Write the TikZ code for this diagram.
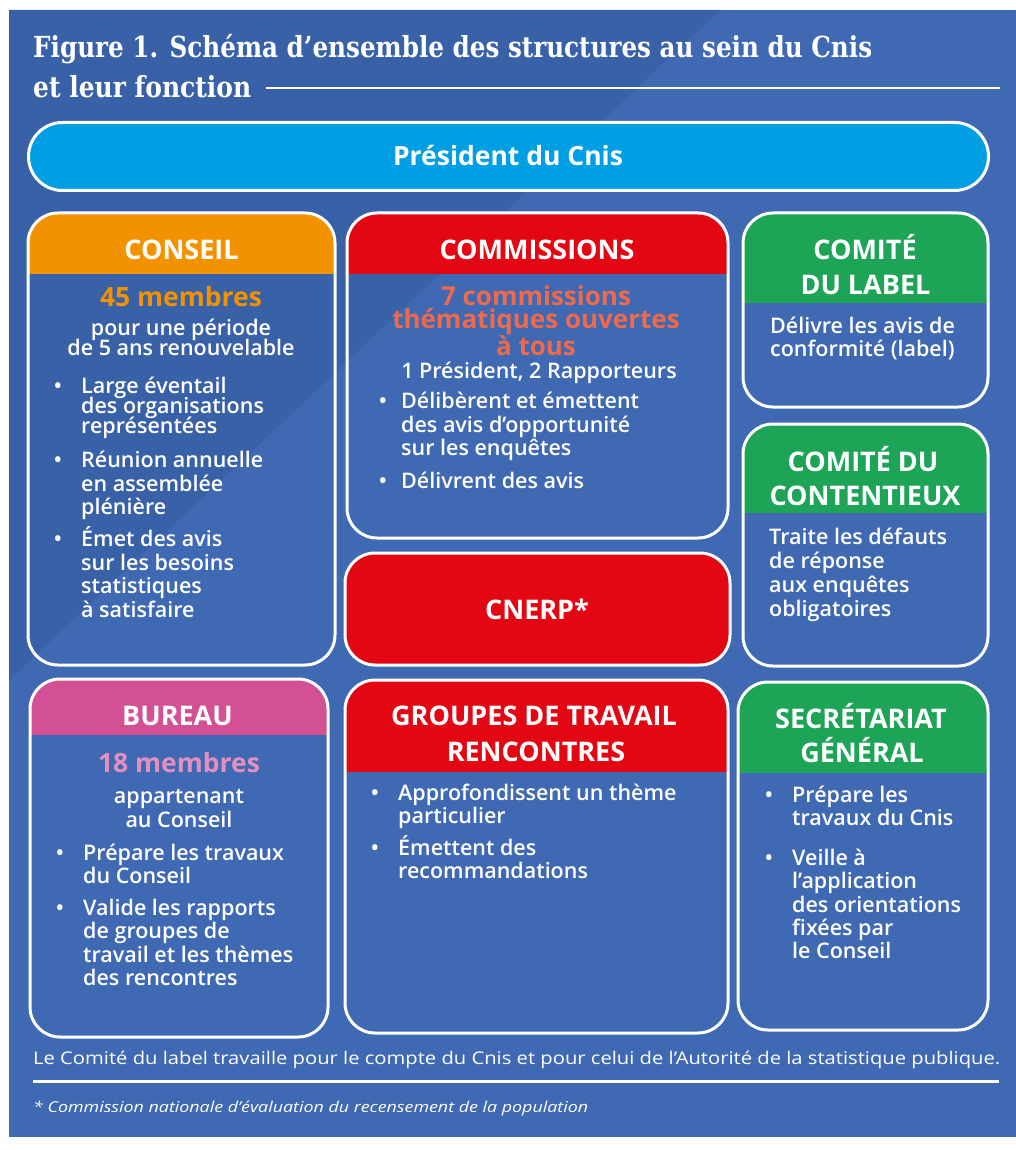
\documentclass[tikz,border=0pt]{standalone}
\usepackage{fontspec}
\usepackage{graphicx}
\setmainfont{Open Sans}
\newfontfamily\bodyf{Open Sans Semibold}
\newfontfamily\titlef{DejaVu Serif}
\definecolor{bgdark}{HTML}{3861A7}
\definecolor{bglight}{HTML}{3F69B2}
\definecolor{prescyan}{HTML}{009FE3}
\definecolor{hdorange}{HTML}{F39200}
\definecolor{hdred}{HTML}{E30613}
\definecolor{hdgreen}{HTML}{1DA457}
\definecolor{hdpink}{HTML}{D35095}
\definecolor{txpink}{HTML}{E58FC1}
\definecolor{txsalmon}{HTML}{EF6A4C}
\tikzset{
  box/.style={draw=white, line width=3pt, rounded corners=30pt, inner sep=0pt, outer sep=0pt},
  hdr/.style 2 args={path picture={\fill[#1, sharp corners] ([yshift=2pt]path picture bounding box.north west) rectangle ([yshift=-#2]path picture bounding box.north east);}},
  hd/.style={text=white, font=\bfseries\fontsize{27}{27}\selectfont, inner sep=0pt, anchor=base},
  big/.style={font=\bfseries\fontsize{26.5}{26.5}\selectfont, inner sep=0pt, anchor=base},
  bt/.style={text=white, font=\bodyf\fontsize{21.5}{21.5}\selectfont, inner sep=0pt, anchor=base west},
  bc/.style={bt, anchor=base},
  bul/.style={bt, anchor=base},
  ttl/.style={text=white, font=\titlef\bfseries\fontsize{29}{29}\selectfont, inner sep=0pt, anchor=base west},
  foot/.style={text=white, font=\fontsize{17.5}{17.5}\selectfont, inner sep=0pt, anchor=base west},
  rule/.style={draw=white, line width=2.5pt}
}
\begin{document}
\begin{tikzpicture}[x=1pt,y=-1pt]
\useasboundingbox (0,0) rectangle (1016,1150);
\fill[white] (0,0) rectangle (1016,1150);
\fill[bglight] (9,10) rectangle (1016,1137);
\fill[bgdark] (9,10) -- (720,10) -- (9,680) -- cycle;

% title
\node[ttl] (t1) at (33,58) {\resizebox{839pt}{\height}{Figure 1. Schéma d’ensemble des structures au sein du Cnis}};
\node[ttl] (t2) at (33,98) {\resizebox{218pt}{\height}{et leur fonction}};
\coordinate (rl) at (1000,88);
\draw[draw=white, line width=2pt] (t2.east |- rl) ++(15,0) -- (rl);

% president
\node[box, fill=prescyan, minimum width=960pt, minimum height=68pt, rounded corners=34pt] (pres) at (508.5,156.5) {};
\node[hd, font=\bfseries\fontsize{26.5}{26.5}\selectfont] (prest) at (508,166) {Président du Cnis};

% boxes
\node[box, hdr={hdorange}{61pt}, minimum width=307pt, minimum height=452pt] (conseil) at (181.5,439) {};
\node[box, hdr={hdred}{61pt}, minimum width=381pt, minimum height=325pt] (comm) at (537.5,375.5) {};
\node[box, fill=hdred, minimum width=385pt, minimum height=112pt] (cnerp) at (537.5,609) {};
\node[box, hdr={hdgreen}{90pt}, minimum width=245pt, minimum height=194pt] (label) at (865.5,310) {};
\node[box, hdr={hdgreen}{89pt}, minimum width=245pt, minimum height=242pt] (cont) at (865.5,545) {};
\node[box, hdr={hdpink}{56pt}, minimum width=298pt, minimum height=358pt] (bureau) at (179,858) {};
\node[box, hdr={hdred}{92pt}, minimum width=383pt, minimum height=353pt] (groupes) at (536.5,856.5) {};
\node[box, hdr={hdgreen}{91pt}, minimum width=250pt, minimum height=348pt] (secr) at (863,856) {};

% CONSEIL
\node[hd] (conseilh) at (181.5,259) {CONSEIL};
\node[big, text=hdorange] (c45) at (181,306) {45 membres};
\node[bc] (c1) at (181,335) {pour une période};
\node[bc] (c2) at (181,355) {de 5 ans renouvelable};
\node[bul] (cb1) at (58,393) {•};
\node[bt] (c3) at (81,393) {Large éventail};
\node[bt] (c4) at (81,413) {des organisations};
\node[bt] (c5) at (81,433) {représentées};
\node[bul] (cb2) at (58,467) {•};
\node[bt] (c6) at (81,467) {Réunion annuelle};
\node[bt] (c7) at (81,491) {en assemblée};
\node[bt] (c8) at (81,514) {plénière};
\node[bul] (cb3) at (58,546) {•};
\node[bt] (c9) at (81,546) {Émet des avis};
\node[bt] (c10) at (81,570) {sur les besoins};
\node[bt] (c11) at (81,593) {statistiques};
\node[bt] (c12) at (81,617) {à satisfaire};

% COMMISSIONS
\node[hd] (commh) at (537,259) {COMMISSIONS};
\node[big, text=txsalmon, font=\bfseries\fontsize{26}{26}\selectfont] (m1) at (536,305) {7 commissions};
\node[big, text=txsalmon, font=\bfseries\fontsize{26}{26}\selectfont] (m2) at (536,328.5) {thématiques ouvertes};
\node[big, text=txsalmon, font=\bfseries\fontsize{26}{26}\selectfont] (m3) at (536,355) {à tous};
\node[bc] (m4) at (539,378) {1 Président, 2 Rapporteurs};
\node[bul] (mb1) at (383,408) {•};
\node[bt] (m5) at (401,408) {Délibèrent et émettent};
\node[bt] (m6) at (401,432) {des avis d’opportunité};
\node[bt] (m7) at (401,455) {sur les enquêtes};
\node[bul] (mb2) at (383,488) {•};
\node[bt] (m8) at (401,488) {Délivrent des avis};

% CNERP
\node[hd] (cnerpt) at (537,619) {CNERP*};

% COMITE DU LABEL
\node[hd] (lh1) at (865,259) {COMITÉ};
\node[hd] (lh2) at (865.5,294) {DU LABEL};
\node[bt] (l1) at (770,333) {Délivre les avis de};
\node[bt] (l2) at (770,356) {conformité (label)};

% COMITE DU CONTENTIEUX
\node[hd] (kh1) at (863,471) {COMITÉ DU};
\node[hd] (kh2) at (865,505) {CONTENTIEUX};
\node[bt] (k1) at (769,544) {Traite les défauts};
\node[bt] (k2) at (769,568) {de réponse};
\node[bt] (k3) at (769,592) {aux enquêtes};
\node[bt] (k4) at (769,616) {obligatoires};

% BUREAU
\node[hd] (bh) at (177.5,725) {BUREAU};
\node[big, text=txpink] (b18) at (179,772) {18 membres};
\node[bc] (b1) at (179,803) {appartenant};
\node[bc] (b2) at (179,827) {au Conseil};
\node[bul] (bb1) at (60,860) {•};
\node[bt] (b3) at (83,860) {Prépare les travaux};
\node[bt] (b4) at (83,883) {du Conseil};
\node[bul] (bb2) at (60,915) {•};
\node[bt] (b5) at (83,915) {Valide les rapports};
\node[bt] (b6) at (83,938) {de groupes de};
\node[bt] (b7) at (83,962) {travail et les thèmes};
\node[bt] (b8) at (83,985) {des rencontres};

% GROUPES
\node[hd] (gh1) at (534,725) {GROUPES DE TRAVAIL};
\node[hd] (gh2) at (536,761) {RENCONTRES};
\node[bul] (gb1) at (375,800) {•};
\node[bt] (g1) at (398,800) {Approfondissent un thème};
\node[bt] (g2) at (398,823) {particulier};
\node[bul] (gb2) at (375,855) {•};
\node[bt] (g3) at (398,855) {Émettent des};
\node[bt] (g4) at (398,878) {recommandations};

% SECRETARIAT
\node[hd] (sh1) at (861,728) {SECRÉTARIAT};
\node[hd] (sh2) at (862,762) {GÉNÉRAL};
\node[bul] (sb1) at (769,802) {•};
\node[bt] (s1) at (792,802) {Prépare les};
\node[bt] (s2) at (792,825) {travaux du Cnis};
\node[bul] (sb2) at (769,865) {•};
\node[bt] (s3) at (792,865) {Veille à};
\node[bt] (s4) at (792,888) {l’application};
\node[bt] (s5) at (792,912) {des orientations};
\node[bt] (s6) at (792,935) {fixées par};
\node[bt] (s7) at (792,958) {le Conseil};

% footer
\node[foot] (ft) at (33,1064) {\resizebox{967pt}{\height}{Le Comité du label travaille pour le compte du Cnis et pour celui de l’Autorité de la statistique publique.}};
\coordinate (fl1) at (33,1081.5);
\coordinate (fl2) at (999,1081.5);
\draw[rule, line width=3pt] (fl1) -- (fl2);
\node[foot, font=\itshape\fontsize{15}{15}\selectfont] (fn) at (33,1112) {\resizebox{555pt}{\height}{* Commission nationale d’évaluation du recensement de la population}};
\end{tikzpicture}
\end{document}
